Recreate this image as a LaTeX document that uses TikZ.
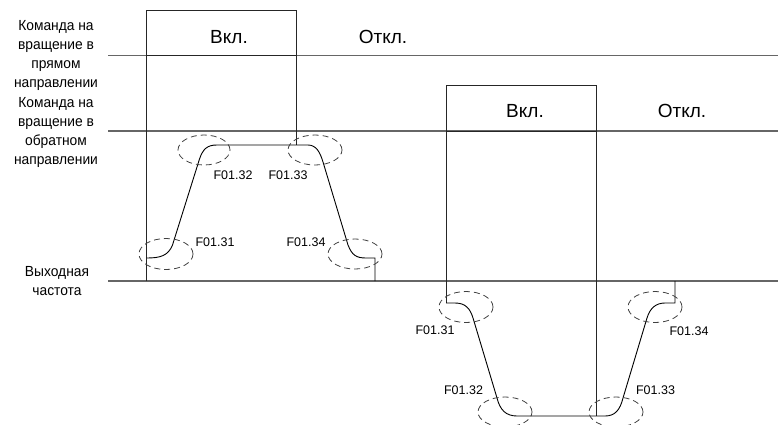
\documentclass[tikz,border=0pt]{standalone}
\usepackage{fontspec}
\setmainfont{Liberation Sans}
\usetikzlibrary{shapes.geometric}
\begin{document}
\begin{tikzpicture}[x=1pt,y=-1pt,
  axisline/.style={draw=black!60,line width=1.4pt},
  boxline/.style={draw=black!85,line width=0.9pt},
  profile/.style={draw=black,line width=0.9pt},
  zone/.style={ellipse,draw=black!75,line width=0.8pt,dash pattern=on 6pt off 4pt,inner sep=0pt},
  rowlabel/.style={align=center,font=\fontsize{13.8}{17.7}\selectfont,inner sep=0pt,yscale=1.06},
  statelabel/.style={font=\fontsize{19}{22}\selectfont,inner sep=0pt},
  parlabel/.style={font=\fontsize{12.5}{14}\selectfont,inner sep=0pt}]
\useasboundingbox (0,0) rectangle (778,424);
% coordinates
\coordinate (l1a) at (108,55.7); \coordinate (l1b) at (778,55.7);
\coordinate (l2a) at (108,131);  \coordinate (l2b) at (778,131);
\coordinate (l3a) at (108,281);  \coordinate (l3b) at (778,281);
% horizontal lines
\draw[axisline] (l1a) -- (l1b);
\draw[axisline] (l2a) -- (l2b);
\draw[axisline] (l3a) -- (l3b);
% box 1 (forward command)
\coordinate (b1bl) at (146.5,281); \coordinate (b1tl) at (146.5,10.5);
\coordinate (b1tr) at (296,10.5);  \coordinate (b1br) at (296,145);
\draw[boxline] (b1bl) -- (b1tl) -- (b1tr) -- (b1br);
\draw[boxline] (146.5,55.7) -- (296,55.7);
% box 2 (reverse command)
\coordinate (b2bl) at (446,303); \coordinate (b2tl) at (446,85.3);
\coordinate (b2tr) at (596,85.3); \coordinate (b2br) at (596,416);
\draw[boxline] (b2bl) -- (b2tl) -- (b2tr) -- (b2br);
\draw[boxline] (446,131) -- (596,131);
% profile 1
\draw[profile] (146.5,258) .. controls (160,258) and (168,256) .. (172.5,245)
  -- (199.5,159) .. controls (203,149) and (207,145) .. (217,145)
  -- (308,145) .. controls (316,145) and (320,152) .. (323,162)
  -- (348,245) .. controls (352,255) and (356,258) .. (366,258)
  -- (375,258) -- (375,281);
% profile 2
\draw[profile] (446,303) -- (455,303) .. controls (465,303) and (470,308) .. (473,318)
  -- (497,398) .. controls (500,410) and (506,416) .. (517,416)
  -- (605,416) .. controls (615,416) and (620,410) .. (623,398)
  -- (647,318) .. controls (650,308) and (656,303) .. (665,303)
  -- (675,303) -- (675,281);
% dashed zones
\node[zone,minimum width=54pt,minimum height=31pt] (e1) at (166,254) {};
\node[zone,minimum width=52pt,minimum height=30pt] (e2) at (204,150) {};
\node[zone,minimum width=54pt,minimum height=30pt] (e3) at (315,150) {};
\node[zone,minimum width=54pt,minimum height=30pt] (e4) at (355,254) {};
\node[zone,minimum width=54pt,minimum height=31pt] (e5) at (466,307) {};
\node[zone,minimum width=54pt,minimum height=30pt] (e6) at (505,412) {};
\node[zone,minimum width=54pt,minimum height=30pt] (e7) at (616,412) {};
\node[zone,minimum width=54pt,minimum height=31pt] (e8) at (655,307) {};
% row labels
\node[rowlabel] (r1) at (56,55.5) {Команда на\\вращение в\\прямом\\направлении};
\node[rowlabel] (r2) at (56,132.5) {Команда на\\вращение в\\обратном\\направлении};
\node[rowlabel] (r3) at (57,281) {Выходная\\частота};
% state labels
\node[statelabel] (on1) at (229,37) {Вкл.};
\node[statelabel] (off1) at (383,37) {Откл.};
\node[statelabel] (on2) at (525,111) {Вкл.};
\node[statelabel] (off2) at (682,111) {Откл.};
% parameter labels
\node[parlabel] (p131a) at (215,242) {F01.31};
\node[parlabel] (p132a) at (233,175) {F01.32};
\node[parlabel] (p133a) at (288,175) {F01.33};
\node[parlabel] (p134a) at (306,242) {F01.34};
\node[parlabel] (p131b) at (435,330) {F01.31};
\node[parlabel] (p132b) at (463.5,390) {F01.32};
\node[parlabel] (p133b) at (655.5,390) {F01.33};
\node[parlabel] (p134b) at (689,331) {F01.34};
\end{tikzpicture}
\end{document}
